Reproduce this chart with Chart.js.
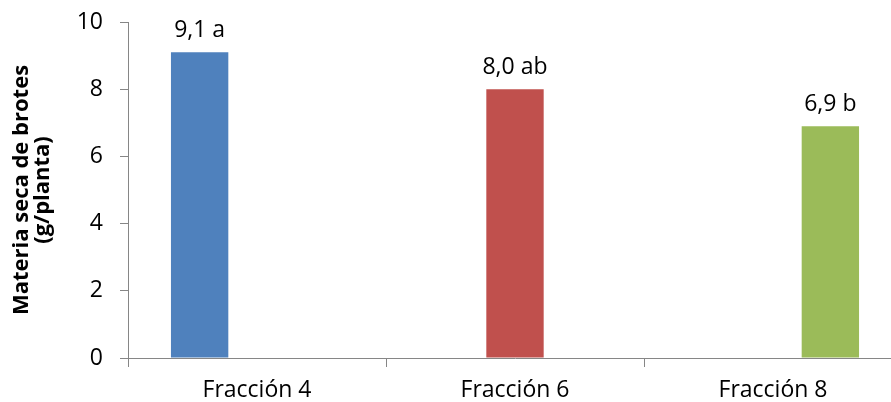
<!DOCTYPE html>
<html>
<head>
<meta charset="utf-8">
<script src="https://cdn.jsdelivr.net/npm/chart.js@4.4.1/dist/chart.umd.min.js"></script>
<style>
  html, body { margin: 0; padding: 0; background: #fff; overflow: hidden; }
  #wrap { width: 910px; height: 402px; }
</style>
</head>
<body>
<div id="wrap"><canvas id="chart"></canvas></div>
<script>
const categories = ['Fracción 4', 'Fracción 6', 'Fracción 8'];
const values = [9.1, 8.0, 6.9];
const letters = ['a', 'ab', 'b'];
const barColors = ['#4F81BD', '#C0504D', '#9BBB59'];
const yTicks = [0, 2, 4, 6, 8, 10];

const axisGrey = '#868686';
const fontFamily = '"Open Sans", sans-serif';

// one series per category, like the Excel original, so bars sit side by side
const datasets = values.map((v, i) => ({
  label: categories[i],
  data: categories.map((c, j) => (j === i ? v : null)),
  backgroundColor: barColors[i],
  barPercentage: 1.0,
  categoryPercentage: 0.667
}));

const barLabels = {
  id: 'barLabels',
  afterDatasetsDraw(chart) {
    const ctx = chart.ctx;
    ctx.save();
    ctx.font = '23px ' + fontFamily;
    ctx.fillStyle = '#000';
    ctx.textAlign = 'center';
    ctx.textBaseline = 'alphabetic';
    values.forEach((v, i) => {
      const bar = chart.getDatasetMeta(i).data[i];
      const txt = v.toFixed(1).replace('.', ',') + ' ' + letters[i];
      ctx.fillText(txt, bar.x, bar.y - 15);
    });
    ctx.restore();
  }
};

new Chart(document.getElementById('chart'), {
  type: 'bar',
  data: { labels: categories, datasets: datasets },
  options: {
    responsive: true,
    maintainAspectRatio: false,
    animation: false,
    layout: { padding: { top: 22, right: 8, left: 0, bottom: 0 } },
    plugins: {
      legend: { display: false },
      tooltip: { enabled: false }
    },
    scales: {
      x: {
        offset: true,
        grid: {
          offset: true,
          drawOnChartArea: false,
          color: axisGrey,
          tickLength: 9
        },
        border: { color: axisGrey, width: 1 },
        ticks: {
          color: '#000',
          padding: 10,
          font: { family: fontFamily, size: 23 }
        },
        afterFit(scale) {
          scale.height = 44;
          scale.paddingLeft = 0;
          scale.paddingRight = 0;
        }
      },
      y: {
        min: 0,
        max: 10,
        afterBuildTicks(scale) { scale.ticks = yTicks.map(v => ({ value: v })); },
        grid: {
          drawOnChartArea: false,
          color: axisGrey,
          tickLength: 8
        },
        border: { color: axisGrey, width: 1 },
        ticks: {
          color: '#000',
          padding: 17,
          font: { family: fontFamily, size: 23 }
        },
        title: {
          display: true,
          text: ['Materia seca de brotes', '(g/planta)'],
          color: '#000',
          font: { family: fontFamily, size: 22, weight: 'bold', lineHeight: 0.955 },
          padding: { top: 11.5, bottom: 0 }
        },
        afterFit(scale) {
          scale.width = 128;
          scale.paddingTop = 0;
          scale.paddingBottom = 0;
        }
      }
    }
  },
  plugins: [barLabels]
});
</script>
</body>
</html>
